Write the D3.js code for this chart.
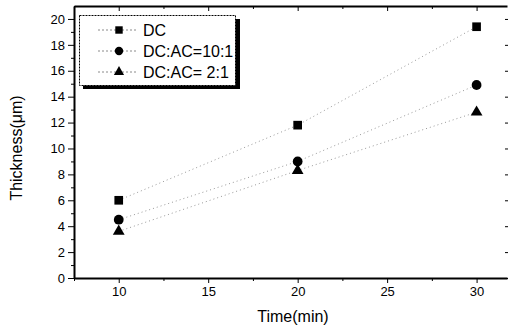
<!DOCTYPE html>
<html>
<head>
<meta charset="utf-8">
<script src="https://cdn.jsdelivr.net/npm/d3@7"></script>
<style>
  html, body { margin: 0; padding: 0; background: #fff; }
  svg { display: block; font-family: "Liberation Sans", Arial, sans-serif; }
  .axis path, .axis line { stroke: #000; }
  .axis text { font-size: 13px; fill: #000; }
</style>
</head>
<body>
<div id="chart"></div>
<script>
// Data
const times      = [10, 20, 30];
const seriesDC   = [6.0, 11.8, 19.4];
const series10_1 = [4.5, 9.0, 14.9];
const series2_1  = [3.6, 8.3, 12.8];
const seriesNames = ['DC', 'DC:AC=10:1', 'DC:AC= 2:1'];
const seriesSymbols = [d3.symbolSquare, d3.symbolCircle, d3.symbolTriangle];
const xTicks = [10, 15, 20, 25, 30];
const yTicks = [0, 2, 4, 6, 8, 10, 12, 14, 16, 18, 20];

const W = 508, H = 331;
const svg = d3.select('#chart').append('svg')
  .attr('width', W)
  .attr('height', H);

const x = d3.scaleLinear().domain([7.5, 31.7]).range([74, 507]);
const y = d3.scaleLinear().domain([0, 21]).range([278, 6]);

const series = [seriesDC, series10_1, series2_1].map((vals, i) => ({
  name: seriesNames[i],
  symbol: seriesSymbols[i],
  points: times.map((t, j) => ({ t, v: vals[j] }))
}));

// ── Frame + axes ─────────────────────────────────────────────
const minorX = d3.range(7.5, 31.7, 2.5).filter(v => !xTicks.includes(v));
const minorY = d3.range(1, 21, 2);

// bottom
svg.append('g').attr('class', 'axis')
  .attr('transform', `translate(0,${y(0)})`)
  .call(d3.axisBottom(x).tickValues(xTicks).tickSize(5).tickPadding(4).tickSizeOuter(0))
  .call(g => g.select('.domain').attr('stroke-width', 2));
svg.append('g').attr('class', 'axis')
  .attr('transform', `translate(0,${y(0)})`)
  .call(d3.axisBottom(x).tickValues(minorX).tickSize(3).tickFormat('').tickSizeOuter(0))
  .call(g => g.select('.domain').remove());

// top (inward ticks)
svg.append('g').attr('class', 'axis')
  .attr('transform', `translate(0,${y(21)})`)
  .call(d3.axisBottom(x).tickValues(xTicks).tickSize(5).tickFormat('').tickSizeOuter(0))
  .call(g => g.select('.domain').attr('stroke-width', 2));
svg.append('g').attr('class', 'axis')
  .attr('transform', `translate(0,${y(21)})`)
  .call(d3.axisBottom(x).tickValues(minorX).tickSize(3).tickFormat('').tickSizeOuter(0))
  .call(g => g.select('.domain').remove());

// left
svg.append('g').attr('class', 'axis')
  .attr('transform', `translate(${x(7.5)},0)`)
  .call(d3.axisLeft(y).tickValues(yTicks).tickSize(6).tickPadding(3).tickSizeOuter(0))
  .call(g => g.select('.domain').attr('stroke-width', 2));
svg.append('g').attr('class', 'axis')
  .attr('transform', `translate(${x(7.5)},0)`)
  .call(d3.axisLeft(y).tickValues(minorY).tickSize(3).tickFormat('').tickSizeOuter(0))
  .call(g => g.select('.domain').remove());

// right edge is cropped in the original: only the inward tick stubs remain
svg.append('g').attr('class', 'axis')
  .attr('transform', `translate(${x(31.7) + 1},0)`)
  .call(d3.axisLeft(y).tickValues(yTicks).tickSize(3).tickFormat('').tickSizeOuter(0))
  .call(g => g.select('.domain').remove());

// Axis titles
svg.append('text')
  .attr('x', 293).attr('y', 322)
  .attr('text-anchor', 'middle')
  .style('font-size', '16px')
  .text('Time(min)');

svg.append('text')
  .attr('transform', `translate(22,148) rotate(-90)`)
  .attr('text-anchor', 'middle')
  .style('font-size', '16px')
  .text('Thickness(μm)');

// ── Series ───────────────────────────────────────────────────
const line = d3.line().x(d => x(d.t)).y(d => y(d.v));

series.forEach(s => {
  svg.append('path')
    .datum(s.points)
    .attr('d', line)
    .attr('fill', 'none')
    .attr('stroke', '#999')
    .attr('stroke-width', 1)
    .attr('stroke-dasharray', '1,3');

  svg.selectAll(null)
    .data(s.points)
    .enter()
    .append('path')
    .attr('transform', d => `translate(${x(d.t)},${y(d.v)})`)
    .attr('d', d3.symbol().type(s.symbol).size(s.symbol === d3.symbolTriangle ? 60 : 75))
    .attr('fill', '#000');
});

// ── Legend ───────────────────────────────────────────────────
const lg = svg.append('g');
lg.append('rect')
  .attr('x', 83).attr('y', 19).attr('width', 157).attr('height', 70)
  .attr('fill', '#000');
lg.append('rect')
  .attr('x', 79.5).attr('y', 15.5).attr('width', 156).attr('height', 70)
  .attr('fill', '#fff')
  .attr('stroke', '#000')
  .attr('stroke-width', 1)
  .attr('stroke-dasharray', '2,1');

series.forEach((s, i) => {
  const cy = 30 + i * 21;
  lg.append('line')
    .attr('x1', 98).attr('x2', 136)
    .attr('y1', cy).attr('y2', cy)
    .attr('stroke', '#8a8a8a')
    .attr('stroke-dasharray', '2,2');
  lg.append('path')
    .attr('transform', `translate(119,${cy})`)
    .attr('d', d3.symbol().type(s.symbol).size(s.symbol === d3.symbolTriangle ? 45 : 55))
    .attr('fill', '#000');
  lg.append('text')
    .attr('x', 143).attr('y', cy + 6)
    .style('font-size', '16px')
    .text(s.name);
});
</script>
</body>
</html>
